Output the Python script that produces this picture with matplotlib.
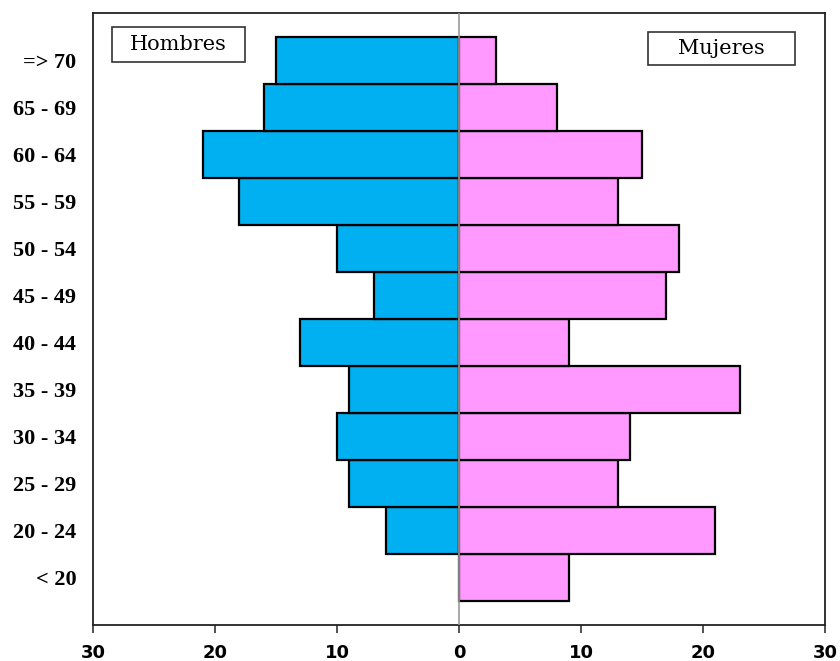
import matplotlib.pyplot as plt
from matplotlib.patches import Rectangle
import numpy as np

grupos = ['< 20', '20 - 24', '25 - 29', '30 - 34', '35 - 39', '40 - 44',
          '45 - 49', '50 - 54', '55 - 59', '60 - 64', '65 - 69', '=> 70']
hombres = [0, 6, 9, 10, 9, 13, 7, 10, 18, 21, 16, 15]
mujeres = [9, 21, 13, 14, 23, 9, 17, 18, 13, 15, 8, 3]
xticks = [-30, -20, -10, 0, 10, 20, 30]
xtick_labels = ['30', '20', '10', '0', '10', '20', '30']


def caja(ax, x0, y0, x1, y1, texto):
    # white box with a label, in axes coordinates
    ax.add_patch(Rectangle((x0, y0), x1 - x0, y1 - y0, transform=ax.transAxes,
                           facecolor='white', edgecolor='#333333',
                           linewidth=1.2, zorder=4))
    ax.text((x0 + x1) / 2, (y0 + y1) / 2, texto, transform=ax.transAxes,
            ha='center', va='center', fontsize=15, family='DejaVu Serif',
            zorder=5)


def main():
    fig = plt.figure(figsize=(8.4, 6.61), dpi=100)
    ax = fig.add_axes([0.1107, 0.0545, 0.8714, 0.9258])

    y = np.arange(len(grupos))
    h = np.array(hombres, dtype=float)
    m = np.array(mujeres, dtype=float)

    mask = h > 0
    ax.barh(y[mask], -h[mask], height=1.0, color='#00B0F0',
            edgecolor='black', linewidth=1.6, zorder=2)
    ax.barh(y, m, height=1.0, color='#FF99FF',
            edgecolor='black', linewidth=1.6, zorder=2)
    ax.axvline(0, color='#999999', linewidth=1.2, zorder=3)

    ax.set_xlim(-30, 30)
    ax.set_ylim(-1, len(grupos))
    ax.set_xticks(xticks)
    ax.set_xticklabels(xtick_labels, fontsize=13, fontweight='bold',
                       family='DejaVu Sans')
    ax.set_yticks(y)
    ax.set_yticklabels(grupos, fontsize=16, fontweight='bold',
                       family='Liberation Serif')
    ax.tick_params(axis='y', length=0, pad=12)
    ax.tick_params(axis='x', length=6, width=1.2, direction='out', pad=8,
                   color='#333333')
    for s in ax.spines.values():
        s.set_linewidth(1.3)
        s.set_color('#222222')

    caja(ax, 0.026, 0.920, 0.2077, 0.977, 'Hombres')
    caja(ax, 0.758, 0.915, 0.959, 0.969, 'Mujeres')

    fig.savefig('out.png', dpi=100)
    plt.close()


if __name__ == '__main__':
    main()
